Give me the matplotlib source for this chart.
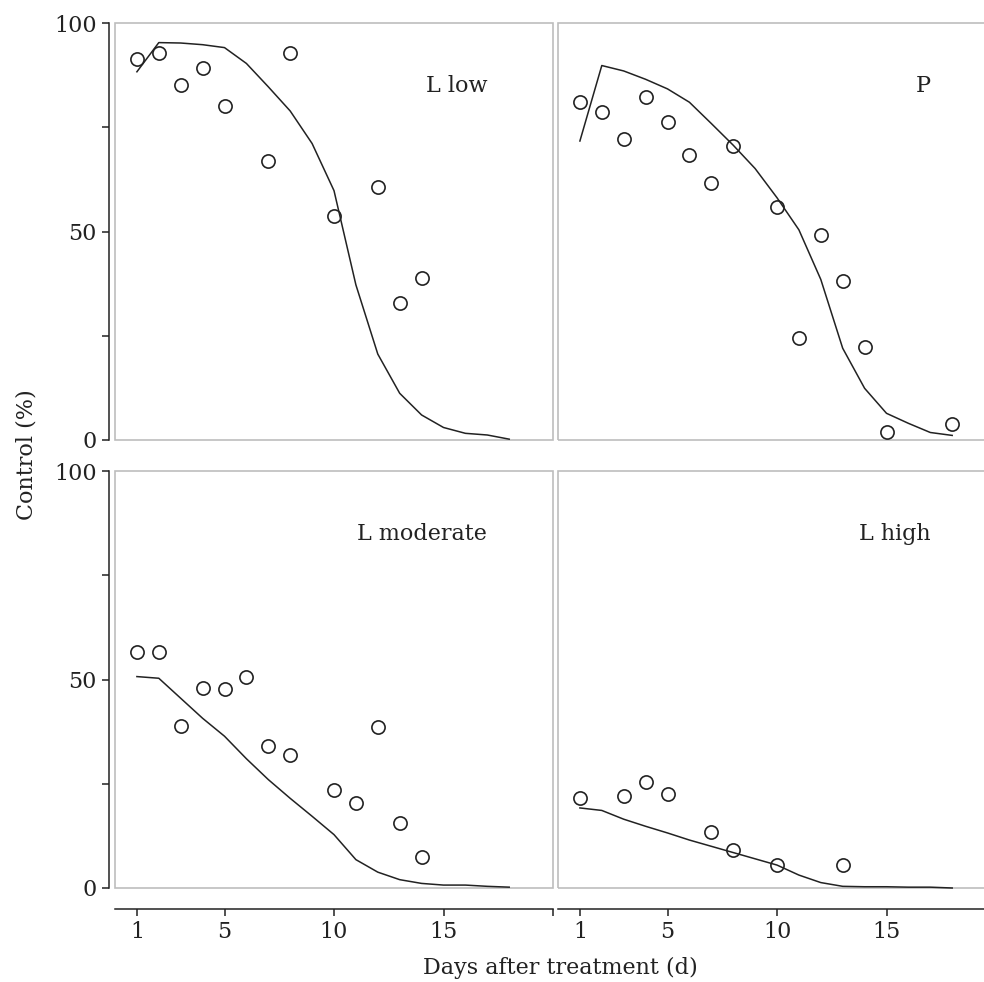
import numpy as np
import matplotlib
matplotlib.use("Agg")
from matplotlib import pyplot as plt
from matplotlib.patches import Rectangle

plt.rcParams["font.family"] = ["DejaVu Serif"]

# observed control (%) per panel
low_days = [1, 2, 3, 4, 5, 7, 8, 10, 12, 13, 14]
low_obs = [91.3, 92.9, 85.1, 89.1, 80.2, 66.8, 92.9, 53.7, 60.7, 32.9, 38.8]

p_days = [1, 2, 3, 4, 5, 6, 7, 8, 10, 11, 12, 13, 14, 15, 18]
p_obs = [81.0, 78.6, 72.1, 82.3, 76.2, 68.4, 61.7, 70.5, 55.9, 24.5, 49.1, 38.2, 22.2, 2.0, 3.8]

mod_days = [1, 2, 3, 4, 5, 6, 7, 8, 10, 11, 12, 13, 14]
mod_obs = [56.7, 56.5, 38.9, 48.0, 47.8, 50.7, 34.1, 31.8, 23.5, 20.4, 38.5, 15.6, 7.5]

high_days = [1, 3, 4, 5, 7, 8, 10, 13]
high_obs = [21.7, 22.1, 25.5, 22.6, 13.4, 9.0, 5.6, 5.4]

# model curves, day 1..18
fit_days = list(range(1, 19))
low_fit = [88.3, 95.3, 95.2, 94.8, 94.1, 90.3, 84.7, 78.9, 71.1, 59.8,
           37.2, 20.6, 11.2, 6.0, 3.0, 1.6, 1.2, 0.2]
p_fit = [71.7, 89.8, 88.5, 86.5, 84.2, 81.0, 75.9, 70.7, 65.1, 58.1,
         50.4, 38.5, 22.0, 12.4, 6.4, 4.0, 1.8, 1.1]
mod_fit = [50.7, 50.3, 45.5, 40.7, 36.4, 31.0, 26.0, 21.5, 17.2, 12.8,
           6.8, 3.8, 2.0, 1.1, 0.7, 0.7, 0.4, 0.2]
high_fit = [19.2, 18.6, 16.5, 14.8, 13.2, 11.5, 10.0, 8.5, 7.0, 5.5,
            3.1, 1.3, 0.4, 0.3, 0.3, 0.2, 0.2, 0.0]

panels = [
    ("L low", low_days, low_obs, low_fit),
    ("P", p_days, p_obs, p_fit),
    ("L moderate", mod_days, mod_obs, mod_fit),
    ("L high", high_days, high_obs, high_fit),
]

W, H = 984, 982
fig = plt.figure(figsize=(W / 100, H / 100), dpi=100)

frame_col = "#bdbdbd"
ink = "#222222"
fs = 16

lefts = [115, 558, 115, 558]
bottoms = [440, 440, 888, 888]
pw, ph = 438, 417

for i, (name, d, obs, fit) in enumerate(panels):
    ax = fig.add_axes([lefts[i] / W, 1 - bottoms[i] / H, pw / W, ph / H])
    ax.set_xlim(0, 20)
    ax.set_ylim(0, 100)
    ax.patch.set_alpha(0)
    for s in ax.spines.values():
        s.set_visible(False)
    ax.add_patch(Rectangle((0, 0), 1, 1, transform=ax.transAxes, fill=False,
                           edgecolor=frame_col, lw=1.2, clip_on=False))

    ax.plot(fit_days, fit, color=ink, lw=1.1, clip_on=False)
    ax.plot(d, obs, "o", ms=9.5, mfc="none", mec=ink, mew=1.2, clip_on=False)
    ax.text(17, 85, name, ha="right", va="center", fontsize=fs, color=ink)

    if i % 2 == 0:
        ax.spines["left"].set_visible(True)
        ax.spines["left"].set_position(("outward", 4))
        ax.spines["left"].set_color(ink)
        ax.spines["left"].set_linewidth(1.1)
        ax.set_yticks([0, 25, 50, 75, 100])
        ax.set_yticklabels(["0", "", "50", "", "100"])
        ax.tick_params(axis="y", direction="out", length=5, width=1.1,
                       colors=ink, labelsize=fs, pad=4)
    else:
        ax.set_yticks([])

    if i >= 2:
        ax.spines["bottom"].set_visible(True)
        ax.spines["bottom"].set_position(("outward", 15))
        ax.spines["bottom"].set_color(ink)
        ax.spines["bottom"].set_linewidth(1.1)
        ax.set_xticks([1, 5, 10, 15, 20])
        ax.set_xticklabels(["1", "5", "10", "15", ""])
        ax.tick_params(axis="x", direction="out", length=5, width=1.1,
                       colors=ink, labelsize=fs, pad=4)
    else:
        ax.set_xticks([])

fig.text(26 / W, 1 - 455 / H, "Control (%)", rotation=90, ha="center",
         va="center", fontsize=fs, color=ink)
fig.text(560 / W, 1 - 968 / H, "Days after treatment (d)", ha="center",
         va="center", fontsize=fs, color=ink)

fig.savefig("out.png", dpi=100)
